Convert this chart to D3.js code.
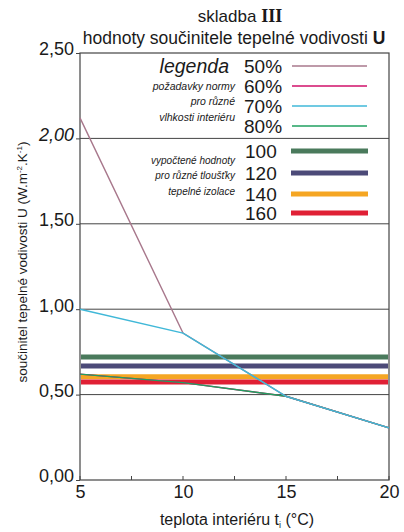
<!DOCTYPE html>
<html>
<head>
<meta charset="utf-8">
<script src="https://cdn.jsdelivr.net/npm/d3@7/dist/d3.min.js"></script>
<style>
  html, body { margin: 0; padding: 0; background: #fff; }
  svg { display: block; }
  svg text { font-family: "Liberation Sans", Arial, Helvetica, sans-serif; }
  svg text .serif { font-family: "Liberation Serif", "Times New Roman", serif; }
</style>
</head>
<body>
<svg id="chart" width="404" height="532"></svg>
<script>
// Interior temperature (°C)
const temps = [5, 10, 15, 20];
// Required U values by interior humidity
const humidityLabels = ["50%", "60%", "70%", "80%"];
const humidityColors = ["#a8788c", "#d0106a", "#40b8d8", "#20a060"];
const u50 = [2.12, 0.86, 0.49, 0.305];
const u60 = [0.62, 0.57, 0.49, 0.305];
const u70 = [1.00, 0.86, 0.49, 0.305];
const u80 = [0.62, 0.57, 0.49, 0.305];
// Computed U values for insulation thicknesses (mm)
const thickLabels = ["100", "120", "140", "160"];
const thickColors = ["#4a7a5c", "#4c4a78", "#f5a623", "#e02035"];
const thickU = [0.72, 0.667, 0.604, 0.574];
// Axis ticks
const yTicks = [0, 0.5, 1.0, 1.5, 2.0, 2.5];
const yTickLabels = ["0,00", "0,50", "1,00", "1,50", "2,00", "2,50"];
const xTicks = [5, 10, 15, 20];
const xMinor = [7.5, 12.5, 17.5];

const svg = d3.select("#chart");
const plotL = 80, plotR = 389, plotT = 53, plotB = 480;
const x = d3.scaleLinear().domain([5, 20]).range([plotL, plotR]);
const y = d3.scaleLinear().domain([0, 2.5]).range([plotB, plotT]);
const ink = "#1a1a1a";

// Title
const t1 = svg.append("text").attr("x", 240).attr("y", 22).attr("text-anchor", "middle")
  .attr("font-size", 17).attr("fill", ink);
t1.append("tspan").text("skladba ");
t1.append("tspan").attr("class", "serif").attr("font-weight", "bold").attr("font-size", 18).text("III");
const t2 = svg.append("text").attr("x", 234).attr("y", 44).attr("text-anchor", "middle")
  .attr("font-size", 17.5).attr("fill", ink);
t2.append("tspan").text("hodnoty součinitele tepelné vodivosti ");
t2.append("tspan").attr("font-weight", "bold").text("U");

// Horizontal grid lines
svg.append("g").selectAll("line").data(yTicks.filter(d => d > 0 && d < 2.5)).join("line")
  .attr("x1", plotL).attr("x2", plotR).attr("y1", d => y(d)).attr("y2", d => y(d))
  .attr("stroke", "#444").attr("stroke-width", 1);

// Frame
svg.append("rect").attr("x", plotL).attr("y", plotT).attr("width", plotR - plotL).attr("height", plotB - plotT)
  .attr("fill", "none").attr("stroke", "#444").attr("stroke-width", 1.2);

// Y axis
const yAxis = d3.axisLeft(y).tickValues(yTicks).tickSize(4)
  .tickFormat((d, i) => yTickLabels[i]);
const gy = svg.append("g").attr("transform", `translate(${plotL},0)`).call(yAxis);
gy.select(".domain").remove();
gy.selectAll(".tick line").attr("stroke", "#444");
gy.selectAll(".tick text").attr("font-size", 18).attr("fill", ink)
  .attr("font-family", null).attr("x", -6).attr("dy", "0.1em")
  .attr("font-style", d => d === 2.0 ? "italic" : "normal");

// X axis
const xAxis = d3.axisBottom(x).tickValues(xTicks).tickSize(0).tickPadding(5).tickFormat(d3.format("d"));
const gx = svg.append("g").attr("transform", `translate(0,${plotB})`).call(xAxis);
gx.select(".domain").remove();
gx.selectAll(".tick text").attr("font-size", 18).attr("fill", ink).attr("font-family", null);
svg.append("g").selectAll("line").data(xTicks.concat(xMinor)).join("line")
  .attr("x1", d => x(d)).attr("x2", d => x(d)).attr("y1", plotB).attr("y2", plotB - 4)
  .attr("stroke", "#444");

// Axis titles
const xl = svg.append("text").attr("x", 237).attr("y", 525).attr("text-anchor", "middle")
  .attr("font-size", 16).attr("fill", ink);
xl.append("tspan").text("teplota interiéru t");
xl.append("tspan").attr("font-size", 9).attr("dy", 3).text("i");
xl.append("tspan").attr("dy", -3).text(" (°C)");

const yl = svg.append("text").attr("transform", "translate(27,262) rotate(-90)")
  .attr("text-anchor", "middle").attr("font-size", 13.5).attr("fill", ink);
yl.append("tspan").text("součinitel tepelné vodivosti U (W.m");
yl.append("tspan").attr("font-size", 8).attr("dy", -5).text("-2");
yl.append("tspan").attr("dy", 5).text(".K");
yl.append("tspan").attr("font-size", 8).attr("dy", -5).text("-1");
yl.append("tspan").attr("dy", 5).text(")");

// Thickness bars (computed values)
svg.append("g").selectAll("line").data(thickU).join("line")
  .attr("x1", plotL + 1).attr("x2", plotR - 1).attr("y1", d => y(d)).attr("y2", d => y(d))
  .attr("stroke", (d, i) => thickColors[i]).attr("stroke-width", 5);

// Humidity curves (required values)
const series = [u60, u80, u50, u70];
const seriesColors = [humidityColors[1], humidityColors[3], humidityColors[0], humidityColors[2]];
const line = d3.line().x((d, i) => x(temps[i])).y(d => y(d));
svg.append("g").selectAll("path").data(series).join("path")
  .attr("d", d => line(d)).attr("fill", "none")
  .attr("stroke", (d, i) => seriesColors[i]).attr("stroke-width", 1.4);

// Legend
const lg = svg.append("g");
lg.append("text").attr("x", 229).attr("y", 73).attr("text-anchor", "end")
  .attr("font-size", 19.5).attr("font-style", "italic").attr("fill", ink).text("legenda");
const humY = [66, 86, 106, 126];
humidityLabels.forEach((lab, i) => {
  lg.append("text").attr("x", 244).attr("y", humY[i] + 7).attr("font-size", 19).attr("fill", ink).text(lab);
  lg.append("line").attr("x1", 292).attr("x2", 367).attr("y1", humY[i]).attr("y2", humY[i])
    .attr("stroke", humidityColors[i]).attr("stroke-width", 1.5);
});
[["požadavky normy", 90], ["pro různé", 105], ["vlhkosti interiéru", 121]].forEach(([s, yy]) => {
  lg.append("text").attr("x", 235).attr("y", yy).attr("text-anchor", "end")
    .attr("font-size", 10.5).attr("font-style", "italic").attr("fill", ink).text(s);
});
const thY = [151, 173, 194, 213];
thickLabels.forEach((lab, i) => {
  lg.append("text").attr("x", 245).attr("y", thY[i] + 7).attr("font-size", 19).attr("fill", ink).text(lab);
  lg.append("line").attr("x1", 291).attr("x2", 368).attr("y1", thY[i]).attr("y2", thY[i])
    .attr("stroke", thickColors[i]).attr("stroke-width", 5);
});
[["vypočtené hodnoty", 164], ["pro různé tloušťky", 179], ["tepelné izolace", 195]].forEach(([s, yy]) => {
  lg.append("text").attr("x", 235).attr("y", yy).attr("text-anchor", "end")
    .attr("font-size", 10).attr("font-style", "italic").attr("fill", ink).text(s);
});
</script>
</body>
</html>
